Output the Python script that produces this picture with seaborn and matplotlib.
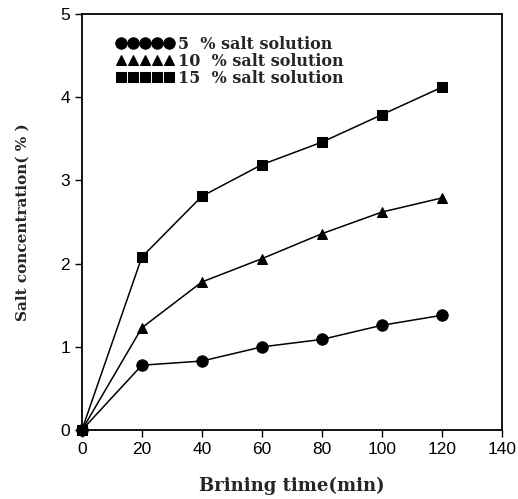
import numpy as np
import pandas as pd
import matplotlib
matplotlib.use("Agg")
import matplotlib.pyplot as plt
import seaborn as sns

time_min = [0, 20, 40, 60, 80, 100, 120]
salt_5 = [0.0, 0.78, 0.83, 1.00, 1.09, 1.26, 1.38]
salt_10 = [0.0, 1.23, 1.78, 2.06, 2.36, 2.62, 2.79]
salt_15 = [0.0, 2.08, 2.81, 3.19, 3.46, 3.79, 4.12]
series_labels = ["5  % salt solution", "10  % salt solution", "15  % salt solution"]
x_ticks = [0, 20, 40, 60, 80, 100, 120, 140]
y_ticks = [0, 1, 2, 3, 4, 5]

sns.set_style("ticks")
plt.rcParams["font.family"] = ["Liberation Sans", "DejaVu Sans"]

fig = plt.figure(figsize=(5.18, 4.99), dpi=100)
ax = fig.add_axes([0.158, 0.138, 0.811, 0.834])

markers = ["o", "^", "s"]
msizes = [8.2, 7, 7.6]
for vals, lab, m, ms in zip([salt_5, salt_10, salt_15], series_labels, markers, msizes):
    sns.lineplot(x=time_min, y=vals, ax=ax, color="black", lw=1.1, marker=m,
                 markersize=ms, markeredgecolor="black", markerfacecolor="black",
                 label=lab, clip_on=False, zorder=5)

ax.set_xlim(0, 140)
ax.set_ylim(0, 5)
ax.set_xticks(x_ticks)
ax.set_yticks(y_ticks)
ax.tick_params(axis="both", direction="out", length=5, width=1, labelsize=12.5, colors="black")
for s in ax.spines.values():
    s.set_visible(True)
    s.set_linewidth(1.3)
    s.set_color("black")

serif = {"family": ["DejaVu Serif"], "weight": "bold"}
ax.set_xlabel("Brining time(min)", fontdict=dict(serif, size=13), labelpad=14)
ax.set_ylabel("Salt concentration( % )", fontdict=dict(serif, size=11), labelpad=22)

leg = ax.legend(loc="upper left", bbox_to_anchor=(0.06, 0.97), frameon=False,
                numpoints=5, handlelength=3.6, handletextpad=0.25, labelspacing=0.0,
                borderaxespad=0.2, prop={"family": "DejaVu Serif", "weight": "bold", "size": 11.5})
for line in leg.get_lines():
    line.set_linewidth(0)

fig.savefig("out.png", dpi=100)
